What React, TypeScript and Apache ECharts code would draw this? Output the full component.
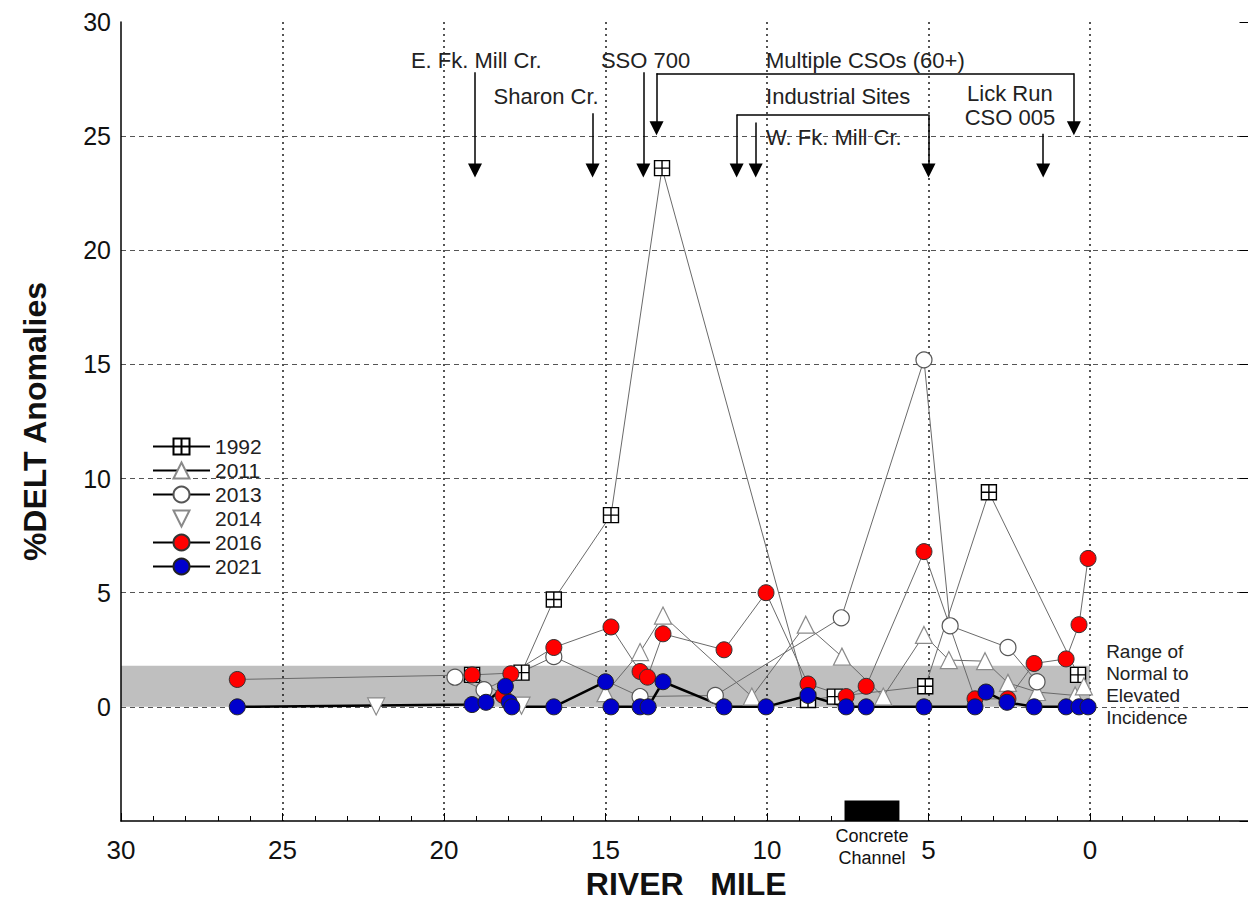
import React, { useEffect, useRef } from 'react';
import * as echarts from 'echarts';

const FONT = '"Liberation Sans", Arial, sans-serif';
const NARROW = '"Liberation Sans Narrow", "Liberation Sans", Arial, sans-serif';

// River mile (x) and %DELT anomalies (y) per survey year
const X1992 = [19.13, 17.6, 16.6, 14.83, 13.25, 8.73, 7.9, 5.1, 3.13, 0.37];
const Y1992 = [1.4, 1.5, 4.7, 8.4, 23.6, 0.3, 0.45, 0.9, 9.4, 1.4];

const X2011 = [15.0, 13.93, 13.22, 10.47, 8.8, 7.68, 6.4, 5.14, 4.37, 3.25, 2.54, 1.64, 0.46, 0.19];
const Y2011 = [0.6, 2.4, 4.0, 0.45, 3.6, 2.2, 0.45, 3.15, 2.05, 2.0, 1.05, 0.65, 0.5, 0.9];

const X2013 = [19.66, 18.76, 16.6, 13.93, 11.6, 7.7, 5.14, 4.33, 2.54, 1.64];
const Y2013 = [1.3, 0.75, 2.2, 0.45, 0.5, 3.9, 15.2, 3.55, 2.6, 1.1];

const X2014 = [22.1, 17.6];
const Y2014 = [0.02, 0.05];

const X2016 = [26.4, 19.13, 18.17, 17.93, 16.6, 14.83, 13.93, 13.7, 13.22, 11.33, 10.03, 8.73, 7.55, 6.93, 5.14, 3.56, 2.54, 1.73, 0.74, 0.34, 0.06];
const Y2016 = [1.2, 1.4, 0.5, 1.45, 2.6, 3.5, 1.55, 1.3, 3.2, 2.5, 5.0, 1.0, 0.45, 0.9, 6.8, 0.35, 0.35, 1.9, 2.1, 3.6, 6.5];

const X2021 = [26.4, 19.13, 18.7, 18.1, 17.98, 17.9, 16.6, 15.0, 14.83, 13.93, 13.68, 13.22, 11.33, 10.03, 8.73, 7.55, 6.93, 5.14, 3.56, 3.22, 2.57, 1.73, 0.74, 0.34, 0.06];
const Y2021 = [0, 0.1, 0.2, 0.9, 0.2, 0, 0, 1.1, 0, 0, 0, 1.1, 0, 0, 0.5, 0, 0, 0, 0, 0.65, 0.2, 0, 0, 0, 0];

// Normal-to-elevated band and concrete channel
const BAND = { x: [30, 0], y: [0, 1.8] };
const CHANNEL = { x: [7.6, 5.9], y: [-5, -4.1] };

// Annotation arrows: [x, yStart, yEnd]
const ARROWS = [
  [19.04, 27.8, 23.5],
  [15.4, 26.0, 23.5],
  [13.83, 27.8, 23.5],
  [13.42, 27.75, 25.35],
  [0.5, 27.75, 25.35],
  [10.94, 25.95, 23.5],
  [5.0, 25.95, 23.5],
  [10.35, 25.6, 23.5],
  [1.45, 25.1, 23.5],
];
// Bracket bars: [xStart, xEnd, y]
const BARS = [
  [13.42, 0.5, 27.75],
  [10.94, 5.0, 25.95],
];
// Centered labels: [text, x, y]
const LABELS_C: [string, number, number][] = [
  ['E. Fk. Mill Cr.', 19.0, 28.33],
  ['Sharon Cr.', 16.84, 26.75],
  ['SSO 700', 13.76, 28.33],
  ['Lick Run\nCSO 005', 2.48, 26.36],
];
// Left-aligned labels: [text, x, y]
const LABELS_L: [string, number, number][] = [
  ['Multiple CSOs (60+)', 10.03, 28.33],
  ['Industrial Sites', 10.03, 26.75],
  ['W. Fk. Mill Cr.', 10.03, 24.96],
];

const pairs = (xs: number[], ys: number[]) => xs.map((x, i) => [x, ys[i]]);

const SQUARE = 'path://M0,0L16,0L16,16L0,16Z M8,0L8,16 M0,8L16,8';

export default function App() {
  const ref = useRef<HTMLDivElement>(null);
  useEffect(() => {
    if (!ref.current) return;
    const chart = echarts.init(ref.current, undefined, { renderer: 'svg' });
    const grayLine = { color: '#6a6a6a', width: 1 };
    const annText = { fontSize: 22, lineHeight: 24, fontFamily: FONT, color: '#222' };
    const option: any = {
      animation: false,
      backgroundColor: '#fff',
      grid: {
        left: 121,
        top: 22,
        right: -3.5,
        bottom: 81,
        containLabel: false,
        outerBoundsMode: 'none',
      },
      legend: {
        orient: 'vertical',
        left: 147,
        top: 431,
        itemWidth: 57,
        itemHeight: 20,
        itemGap: 3,
        textStyle: { fontSize: 21, lineHeight: 20, color: '#222', fontFamily: FONT },
        data: [
          { name: '1992', lineStyle: { color: '#000' } },
          { name: '2011', lineStyle: { color: '#000' } },
          { name: '2013', lineStyle: { color: '#000' } },
          { name: '2014' },
          { name: '2016', lineStyle: { color: '#000' } },
          { name: '2021', lineStyle: { color: '#000' } },
        ],
      },
      xAxis: {
        type: 'value',
        inverse: true,
        min: -5,
        max: 30,
        interval: 5,
        axisLine: { show: true, onZero: false, lineStyle: { color: '#000', width: 1.5 } },
        axisTick: { show: true, inside: true, length: 8, lineStyle: { color: '#000' } },
        minorTick: { show: true, splitNumber: 5, length: 5, lineStyle: { color: '#000' } },
        axisLabel: {
          formatter: (v: number) => (v < 0 ? '' : String(v)),
          fontSize: 26,
          fontFamily: NARROW,
          color: '#111',
          margin: 16,
        },
        splitLine: {
          show: true,
          showMinLine: false,
          showMaxLine: false,
          lineStyle: { color: '#555', type: [2, 4], width: 2 },
        },
        name: 'RIVER   MILE',
        nameLocation: 'middle',
        nameGap: 46,
        nameTextStyle: { fontSize: 32, fontWeight: 'bold', fontFamily: NARROW, color: '#111' },
      },
      yAxis: [
        {
          type: 'value',
          min: -5,
          max: 30,
          interval: 5,
          axisLine: { show: true, onZero: false, lineStyle: { color: '#000', width: 1.5 } },
          axisTick: { show: false },
          axisLabel: {
            formatter: (v: number) => (v < 0 ? '' : String(v)),
            fontSize: 25,
            fontFamily: FONT,
            color: '#111',
            margin: 10,
          },
          splitLine: {
            show: true,
            showMinLine: false,
            showMaxLine: false,
            lineStyle: { color: '#555', type: [5, 4], width: 1 },
          },
          name: '%DELT Anomalies',
          nameLocation: 'middle',
          nameGap: 70,
          nameTextStyle: { fontSize: 32, fontWeight: 'bold', fontFamily: FONT, color: '#111' },
        },
        {
          type: 'value',
          position: 'right',
          min: -5,
          max: 30,
          interval: 5,
          axisLine: { show: false, onZero: false },
          axisTick: { show: true, inside: true, length: 12, lineStyle: { color: '#000' } },
          axisLabel: { show: false },
          splitLine: { show: false },
        },
      ],
      series: [
        {
          name: 'annotations',
          type: 'line',
          data: [],
          silent: true,
          markArea: {
            silent: true,
            data: [
              [
                { xAxis: BAND.x[0], yAxis: BAND.y[0], itemStyle: { color: 'rgba(0,0,0,0.25)' } },
                { xAxis: BAND.x[1], yAxis: BAND.y[1] },
              ],
              [
                {
                  xAxis: CHANNEL.x[0],
                  yAxis: CHANNEL.y[0],
                  itemStyle: { color: '#000' },
                  label: {
                    show: true,
                    position: 'bottom',
                    distance: 4,
                    formatter: 'Concrete\nChannel',
                    fontSize: 18,
                    lineHeight: 22,
                    fontFamily: NARROW,
                    color: '#111',
                  },
                },
                { xAxis: CHANNEL.x[1], yAxis: CHANNEL.y[1] },
              ],
            ],
          },
          markLine: {
            silent: true,
            animation: false,
            symbol: ['none', 'triangle'],
            symbolSize: 14,
            label: { show: false },
            lineStyle: { color: '#000', width: 1.5, type: 'solid' },
            data: [
              ...ARROWS.map((a) => [
                { coord: [a[0], a[1]] },
                { coord: [a[0], a[2]] },
              ]),
              ...BARS.map((b) => [
                { coord: [b[0], b[2]], symbol: 'none' },
                { coord: [b[1], b[2]], symbol: 'none' },
              ]),
            ],
          },
          markPoint: {
            silent: true,
            symbol: 'circle',
            symbolSize: 0,
            itemStyle: { color: 'transparent' },
            data: [
              ...LABELS_C.map((l) => ({
                coord: [l[1], l[2]],
                label: { show: true, position: 'inside', formatter: l[0], align: 'center', ...annText },
              })),
              ...LABELS_L.map((l) => ({
                coord: [l[1], l[2]],
                label: { show: true, position: 'right', distance: 0, formatter: l[0], ...annText },
              })),
              {
                coord: [-0.5, 1.0],
                label: {
                  show: true,
                  position: 'right',
                  distance: 0,
                  formatter: 'Range of\nNormal to\nElevated\nIncidence',
                  fontSize: 19,
                  lineHeight: 22,
                  fontFamily: FONT,
                  color: '#222',
                },
              },
            ],
          },
        },
        {
          name: '1992',
          type: 'line',
          data: pairs(X1992, Y1992),
          symbol: SQUARE,
          symbolSize: 15,
          lineStyle: grayLine,
          itemStyle: { color: '#fff', borderColor: '#000', borderWidth: 1.4 },
        },
        {
          name: '2011',
          type: 'line',
          data: pairs(X2011, Y2011),
          symbol: 'triangle',
          symbolSize: 17,
          lineStyle: grayLine,
          itemStyle: { color: '#fff', borderColor: '#8a8a8a', borderWidth: 1.2 },
        },
        {
          name: '2013',
          type: 'line',
          data: pairs(X2013, Y2013),
          symbol: 'circle',
          symbolSize: 16,
          lineStyle: grayLine,
          itemStyle: { color: '#fff', borderColor: '#555', borderWidth: 1.2 },
        },
        {
          name: '2014',
          type: 'line',
          data: pairs(X2014, Y2014),
          symbol: 'triangle',
          symbolRotate: 180,
          symbolSize: 17,
          lineStyle: { width: 0, opacity: 0 },
          itemStyle: { color: '#fff', borderColor: '#8a8a8a', borderWidth: 1.2 },
        },
        {
          name: '2016',
          type: 'line',
          data: pairs(X2016, Y2016),
          symbol: 'circle',
          symbolSize: 16,
          lineStyle: grayLine,
          itemStyle: { color: '#ff0000', borderColor: '#333', borderWidth: 1 },
        },
        {
          name: '2021',
          type: 'line',
          data: pairs(X2021, Y2021),
          symbol: 'circle',
          symbolSize: 16,
          lineStyle: { color: '#000', width: 2.5 },
          itemStyle: { color: '#0000cc', borderColor: '#222', borderWidth: 1 },
        },
      ],
    };
    chart.setOption(option);
    return () => chart.dispose();
  }, []);
  return (
    <div
      ref={ref}
      style={{ position: 'absolute', left: 0, top: 0, width: 1248, height: 902, background: '#fff' }}
    />
  );
}
